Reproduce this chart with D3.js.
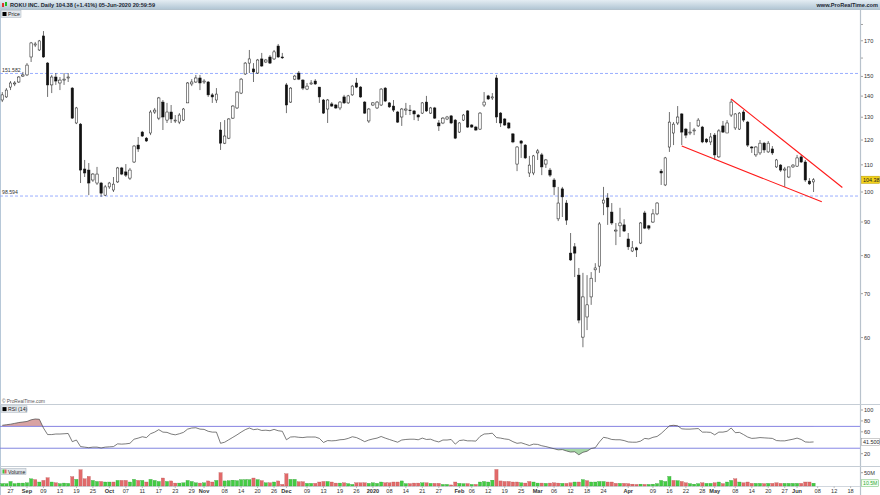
<!DOCTYPE html>
<html><head><meta charset="utf-8">
<script src="https://cdn.jsdelivr.net/npm/d3@7"></script>
<style>body{margin:0;background:#fff}svg{display:block;font-family:"Liberation Sans",Arial,sans-serif}</style>
</head><body><svg id="c" width="880" height="495"></svg>
<script>
// ---------- DATA ----------
const firstDay = "2019-08-23", lastDay = "2020-06-19";
const holidays = ["2019-09-02","2019-11-28","2019-12-25","2020-01-01","2020-01-20","2020-02-17","2020-04-10","2020-05-25"];
const opens = [
138.1,139.6,144.5,146.1,147.1,150.2,150.8,160.6,167.5,164.6,
172.9,157.2,145.6,149.7,146.6,148.1,149.2,144.0,127.4,126.9,
108.4,108.0,104.3,103.2,103.2,98.9,101.8,100.7,103.6,108.8,
107.3,105.0,111.1,117.9,123.4,120.8,123.0,132.4,129.6,137.1,
128.7,132.4,128.3,127.8,128.7,136.7,146.1,147.1,149.2,147.1,
147.1,140.6,138.1,124.3,118.7,120.8,129.6,134.3,141.5,151.3,
157.2,154.0,151.8,159.5,157.8,160.6,159.5,166.9,160.6,145.6,
137.1,148.6,151.8,148.1,143.5,146.1,147.6,144.5,138.1,133.8,
136.2,135.7,134.3,139.6,136.7,140.6,146.6,144.5,137.1,128.3,
135.7,134.3,135.7,144.0,136.7,135.2,132.4,130.1,133.3,133.3,
132.9,131.0,131.9,137.1,131.9,134.3,127.4,127.4,129.2,130.6,
128.7,123.4,128.7,132.9,126.5,125.6,124.7,135.7,140.1,139.1,
149.2,131.9,129.2,127.4,122.6,110.3,119.6,117.9,106.9,106.9,
114.7,113.9,110.3,108.0,104.3,91.0,101.1,96.2,80.7,82.5,
74.7,60.1,64.5,69.2,76.1,77.1,96.2,97.9,93.2,87.2,
88.8,89.1,84.8,81.3,82.2,83.6,92.9,88.8,90.0,92.6,
107.6,102.5,117.1,123.0,127.4,131.5,124.7,123.0,123.9,126.1,
125.6,120.4,119.2,122.1,113.1,126.1,123.0,131.0,125.2,124.7,
132.4,127.8,117.1,113.9,114.7,118.7,115.1,116.3,109.2,109.9,
108.0,105.4,109.2,109.5,113.1,111.1,103.9,103.6];
const highs = [
142.0,144.0,147.6,147.6,150.2,152.4,157.2,169.3,169.3,170.5,
175.9,157.8,150.8,151.8,149.7,151.8,151.8,144.5,134.8,127.4,
111.9,110.7,106.9,109.2,103.6,102.5,103.6,105.4,109.2,109.2,
110.3,108.8,117.9,121.3,123.9,121.3,133.3,134.3,139.6,138.1,
136.7,135.7,131.0,131.9,134.3,147.1,148.6,150.8,150.8,148.6,
147.6,141.5,144.0,127.8,128.7,129.6,135.7,142.5,149.2,157.8,
164.6,157.2,159.5,162.9,159.5,161.7,164.6,168.1,162.9,146.6,
144.5,150.8,152.9,148.6,146.6,148.1,148.6,144.5,138.6,138.6,
137.1,136.2,137.6,140.6,140.6,145.6,149.2,145.0,137.6,134.3,
137.1,137.6,144.0,144.5,137.1,138.1,132.9,134.3,136.7,135.7,
133.3,131.5,137.1,140.1,134.8,134.8,128.7,130.1,130.6,131.0,
129.2,127.8,131.5,133.3,126.9,126.1,132.4,142.0,140.6,141.5,
150.8,132.4,129.6,127.8,123.0,117.5,120.0,118.3,113.5,113.9,
116.3,114.7,112.3,108.8,105.0,101.8,101.8,97.2,86.6,83.6,
76.6,75.3,74.7,75.5,77.9,90.0,101.8,99.6,96.2,89.7,
94.6,90.9,86.6,84.2,82.5,90.0,93.6,89.1,94.2,96.5,
108.4,113.1,132.4,127.8,135.2,131.9,125.2,127.8,125.2,129.6,
126.1,120.8,123.0,123.0,124.7,128.3,128.7,138.6,131.9,132.4,
133.3,128.3,117.5,117.5,120.0,119.2,119.6,117.5,112.3,110.3,
109.2,109.2,110.3,113.9,113.9,111.9,105.0,105.0];
const lows = [
137.1,139.1,143.0,145.0,146.6,149.7,150.2,157.8,166.3,164.0,
160.1,139.6,141.5,145.6,143.0,145.6,147.1,129.2,126.9,103.2,
105.4,98.9,103.6,102.5,98.3,98.6,101.1,100.0,103.2,106.1,
105.4,104.3,110.7,115.1,121.3,119.2,122.1,131.5,128.7,124.3,
127.4,127.4,127.4,126.9,128.3,136.7,145.0,146.6,143.0,146.1,
139.6,136.7,136.7,115.9,118.3,120.4,129.2,133.8,141.0,150.8,
151.8,147.1,151.3,155.1,157.2,156.7,158.9,160.1,159.5,131.9,
136.7,148.1,148.1,143.0,143.0,145.6,145.6,136.7,131.5,127.4,
134.8,133.8,133.3,136.2,136.2,140.1,144.0,139.1,131.5,127.4,
135.2,133.8,135.2,137.1,134.3,132.4,127.4,126.1,131.0,131.0,
128.7,128.3,131.5,132.4,131.5,129.2,123.9,126.9,128.7,126.9,
120.4,123.0,128.3,125.2,125.2,123.9,124.3,134.8,138.1,138.1,
127.4,125.6,126.1,124.7,118.7,107.6,112.7,112.3,105.4,106.1,
111.9,106.1,108.8,105.4,98.9,90.3,91.6,89.1,78.5,74.2,
63.1,58.0,61.6,67.3,72.9,75.3,92.2,89.1,89.1,83.0,
85.4,86.9,81.6,81.0,79.6,83.3,87.8,87.5,89.7,92.2,
102.5,102.1,115.1,117.9,126.5,117.9,120.8,122.1,122.1,125.6,
118.7,118.7,117.9,111.9,112.7,123.0,123.0,130.1,124.3,124.3,
127.8,117.1,114.7,113.1,113.9,114.7,114.7,113.9,108.8,107.3,
101.8,105.0,108.8,109.2,110.7,103.6,102.5,100.0];
const closes = [
140.6,143.0,146.6,146.6,149.7,150.8,156.1,168.7,168.1,169.9,
160.6,145.6,149.7,147.6,148.1,148.6,149.7,129.6,134.3,108.0,
106.9,103.2,106.5,106.5,99.6,101.8,103.2,102.8,108.8,106.5,
106.1,108.0,117.5,116.3,121.7,119.6,132.4,133.3,139.1,130.1,
132.4,129.2,128.7,131.0,133.8,146.6,147.1,149.2,146.6,147.6,
140.6,139.6,141.0,118.7,121.7,129.2,135.2,142.0,148.6,157.2,
159.5,152.4,158.9,155.6,158.9,157.2,163.5,160.6,160.1,135.7,
144.0,150.2,148.6,144.0,145.0,146.6,146.1,139.6,131.9,138.1,
135.2,134.3,137.1,136.7,140.1,145.0,144.5,139.6,131.9,133.8,
136.7,137.1,143.5,137.6,134.8,133.3,127.8,133.8,133.8,133.0,
131.5,130.1,136.7,132.9,134.3,129.6,126.1,129.6,130.1,127.4,
120.8,127.4,131.0,125.6,125.6,124.3,131.9,137.1,138.6,139.6,
130.1,127.4,126.5,125.2,119.2,117.1,118.7,112.7,109.9,113.5,
115.5,109.2,111.9,106.1,101.8,96.2,98.3,90.6,78.8,80.7,
63.8,69.2,67.3,73.9,76.6,89.4,97.2,94.9,89.7,87.5,
89.7,87.2,82.5,82.2,81.6,89.7,88.1,88.1,92.6,96.2,
106.9,112.7,127.8,126.9,130.1,123.4,122.1,123.4,124.3,128.7,
119.2,119.2,121.3,113.9,123.9,123.4,127.4,137.1,131.5,131.9,
128.7,117.9,116.7,117.1,118.7,115.9,118.7,114.7,111.9,108.0,
108.4,109.2,109.9,112.7,111.1,104.3,102.9,104.38];
const volumesM = [
9,9,17,9,11,11,12,27,24,15,
21,31,15,12,9,11,10,35,25,61,
27,36,21,17,17,15,15,15,21,21,
21,15,25,21,21,15,25,21,17,30,
17,19,11,11,12,21,17,12,11,12,
19,15,21,50,19,20,22,20,24,24,
24,30,24,20,12,12,15,19,6,46,
25,25,16,16,10,10,10,15,17,17,
15,11,11,12,9,6,12,12,12,10,
12,10,15,12,12,15,15,19,9,9,
11,11,12,12,10,10,10,6,6,4,
15,10,9,9,6,6,15,17,15,22,
62,19,17,17,15,15,12,11,17,15,
11,11,10,11,12,11,10,10,12,15,
15,24,20,15,15,17,17,15,15,10,
10,10,9,7,6,7,6,6,7,9,
21,17,36,21,20,17,12,9,7,9,
12,10,10,12,15,9,15,21,27,15,
12,15,10,10,10,9,10,10,12,10,
10,10,10,10,10,15,15,10.5];
const rsi14 = [
72,73,74,75.5,77,78,79,82,83.5,83,
67,55,55,56,56,56.5,57,42,45,33,
32,31,32,32,30.5,32,32.5,33,38,37.5,
38,39,46.5,48.5,51,49.5,56.5,59.5,64,59.5,
59,56,54.5,56.5,59,65,67,67.5,65,64.5,
61,59.5,59.5,39,41,45.5,50,54.5,59.5,64,
67,64,65,62.5,63,62,64.5,62,61,45.5,
50.5,51,50,49.5,50.5,50.5,50.5,48,40.5,44,
43.5,44,45.5,46,48,51,49.5,46,42,45,
47,48.5,51.5,48.5,46,43.5,41,45,46,46.5,
46.5,45.5,48.5,46,46.5,43.5,41.5,45,45,46,
37.5,44,45,43.5,43.5,43,51.5,56,56.5,57.5,
49.5,48.5,47,46,42,39,40,37.5,35,37.5,
37,34.5,33,31,29,27,27.5,25,23,23.5,
18,22.5,24.5,29.5,31,41.5,50,48.5,46,45.5,
45.5,44,41.5,41,41,43,48,47,50,51.5,
57,64,71,72,71,65.5,65,65,65.5,66,
59.5,59.5,59,54.5,59.5,59.5,61,67,58.5,59,
55,50.5,48,48.5,49.5,49,48.5,48,44,43.5,
43.5,45,46.5,48.5,46,41.5,41,41.5];
const priceTicks = [180,170,160,150,140,130,120,110,100,90,80,70,60];
const priceTickLabels = [170,150,140,130,120,110,100,90,80,70,60];
const levels = [151.582, 98.594];
const upperTrend = [["2020-05-07",138.6],["2020-06-16",101.6]];
const lowerTrend = [["2020-04-21",117.5],["2020-06-09",96.6]];
const rsiTicks = [100,80,60,20];
const rsiBands = [70,30];
const lastRsi = 41.5;
const lastPrice = 104.38;
const volTick = 50, lastVol = 10.5;
const dateTicks = [
["2019-08-27","27"],["2019-09-03","Sep",1],["2019-09-09","09"],["2019-09-13","13"],["2019-09-19","19"],["2019-09-25","25"],
["2019-10-01","Oct",1],["2019-10-07","07"],["2019-10-11","11"],["2019-10-17","17"],["2019-10-23","23"],["2019-10-29","29"],
["2019-11-01","Nov",1],["2019-11-08","08"],["2019-11-14","14"],["2019-11-20","20"],["2019-11-26","26"],
["2019-12-02","Dec",1],["2019-12-09","09"],["2019-12-13","13"],["2019-12-19","19"],["2019-12-26","26"],
["2020-01-02","2020",1],["2020-01-08","08"],["2020-01-14","14"],["2020-01-21","21"],["2020-01-27","27"],
["2020-02-03","Feb",1],["2020-02-06","06"],["2020-02-12","12"],["2020-02-19","19"],["2020-02-25","25"],
["2020-03-02","Mar",1],["2020-03-06","06"],["2020-03-12","12"],["2020-03-18","18"],["2020-03-24","24"],
["2020-04-01","Apr",1],["2020-04-09","09"],["2020-04-16","16"],["2020-04-22","22"],["2020-04-28","28"],
["2020-05-01","May",1],["2020-05-08","08"],["2020-05-14","14"],["2020-05-20","20"],["2020-05-27","27"],
["2020-06-01","Jun",1],["2020-06-08","08"],["2020-06-12","12"],["2020-06-18","18"]];

// ---------- BUILD ----------
const parse = d3.utcParse("%Y-%m-%d"), fmt = d3.utcFormat("%Y-%m-%d");
const days = [];
for (let d = parse(firstDay); d <= parse(lastDay); d = d3.utcDay.offset(d, 1)) {
  const wd = d.getUTCDay(), s = fmt(d);
  if (wd > 0 && wd < 6 && !holidays.includes(s)) days.push(s);
}
const idxOf = new Map(days.map((d, i) => [d, i]));
const data = closes.map((c, i) => ({i, o: opens[i], h: highs[i], l: lows[i], c, v: volumesM[i], r: rsi14[i],
  upVol: i === 0 ? c >= opens[i] : c >= closes[i - 1]}));

const AX = 860;
const svg = d3.select("#c");
const x = d3.scaleLinear().domain([-0.556, 208.28]).range([0, AX]);
const y = d3.scaleLog().domain([47.36, 196.15]).range([405, 0]);
const yR = d3.scaleLinear().domain([0, 100]).range([464.6, 410]);
const yV = d3.scaleLinear().domain([0, 50]).range([486, 472.7]);
const FS = 5.6;

const defs = svg.append("defs");
const g1 = defs.append("linearGradient").attr("id", "hdr").attr("x1", 0).attr("x2", 0).attr("y1", 0).attr("y2", 1);
g1.append("stop").attr("offset", "0").attr("stop-color", "#e4edf3");
g1.append("stop").attr("offset", "1").attr("stop-color", "#b3c7d5");
defs.append("clipPath").attr("id", "cp").append("rect").attr("x", 0).attr("y", 9).attr("width", AX).attr("height", 395);
defs.append("clipPath").attr("id", "cpUp").append("rect").attr("x", 0).attr("y", 404).attr("width", AX).attr("height", yR(70) - 404);
defs.append("clipPath").attr("id", "cpDn").append("rect").attr("x", 0).attr("y", yR(30)).attr("width", AX).attr("height", 466 - yR(30));

// header
svg.append("rect").attr("x", 0).attr("y", 0).attr("width", 880).attr("height", 9).attr("fill", "url(#hdr)");
svg.append("line").attr("x1", 0).attr("x2", 880).attr("y1", 9.5).attr("y2", 9.5).attr("stroke", "#9fb2c0").attr("stroke-width", 0.8);
svg.append("rect").attr("x", 2).attr("y", 3).attr("width", 2).attr("height", 4).attr("fill", "#d33");
svg.append("rect").attr("x", 5).attr("y", 2).attr("width", 2).attr("height", 4).attr("fill", "#2b2");
svg.append("text").attr("x", 10).attr("y", 6.6).attr("font-size", 5.6).attr("font-weight", "bold").attr("fill", "#1c2733")
  .text("ROKU INC. Daily 104.38 (+1.41%) 05-Jun-2020 20:59:59");
svg.append("text").attr("x", 878).attr("y", 6.6).attr("text-anchor", "end").attr("font-size", 5.6).attr("fill", "#1c2733").attr("font-weight", "bold")
  .text("www.ProRealTime.com");

// borders
svg.append("line").attr("x1", 0.5).attr("x2", 0.5).attr("y1", 9).attr("y2", 495).attr("stroke", "#b7c8d8");
svg.append("line").attr("x1", AX + 0.5).attr("x2", AX + 0.5).attr("y1", 9).attr("y2", 495).attr("stroke", "#b8c2cc").attr("stroke-width", 1.2);
[404.5, 466.5].forEach(v => svg.append("line").attr("x1", 0).attr("x2", 880).attr("y1", v).attr("y2", v).attr("stroke", "#c5cdd5").attr("stroke-width", 1));
svg.append("line").attr("x1", 0).attr("x2", AX).attr("y1", 486.5).attr("y2", 486.5).attr("stroke", "#c5cdd5").attr("stroke-width", 0.8);

// price legend
const lg = svg.append("g");
lg.append("rect").attr("x", 1).attr("y", 10.5).attr("width", 20).attr("height", 7).attr("fill", "#e3e8ed").attr("stroke", "#a8b2bc").attr("stroke-width", 0.5);
lg.append("rect").attr("x", 2.5).attr("y", 12).attr("width", 4).attr("height", 4).attr("fill", "#000");
lg.append("text").attr("x", 8).attr("y", 16.2).attr("font-size", 5.2).attr("fill", "#222").text("Price");

// price panel
const pp = svg.append("g").attr("clip-path", "url(#cp)");
levels.forEach(l => {
  pp.append("line").attr("x1", 0).attr("x2", AX).attr("y1", y(l)).attr("y2", y(l))
    .attr("stroke", "#8ea6ff").attr("stroke-width", 0.9).attr("stroke-dasharray", "3,2");
  svg.append("text").attr("x", 2).attr("y", y(l) - 1.6).attr("font-size", 5.2).attr("fill", "#333").text(l.toFixed(3));
});
pp.selectAll(".wick").data(data).join("line")
  .attr("x1", d => x(d.i)).attr("x2", d => x(d.i)).attr("y1", d => y(d.h)).attr("y2", d => y(d.l))
  .attr("stroke", "#111").attr("stroke-width", 0.6);
pp.selectAll(".body").data(data).join("rect")
  .attr("x", d => x(d.i) - 1.2).attr("width", 2.4)
  .attr("y", d => y(Math.max(d.o, d.c)))
  .attr("height", d => Math.max(0.6, Math.abs(y(d.o) - y(d.c))))
  .attr("fill", d => d.c >= d.o ? "#fff" : "#111").attr("stroke", "#111").attr("stroke-width", 0.5);
const trend = d3.line().x(p => x(idxOf.get(p[0]))).y(p => y(p[1]));
[upperTrend, lowerTrend].forEach(t => pp.append("path").attr("d", trend(t)).attr("fill", "none").attr("stroke", "#ff1a1a").attr("stroke-width", 1.1));

// price axis
const pa = svg.append("g");
priceTicks.forEach(t => pa.append("line").attr("x1", AX + 1).attr("x2", AX + 3).attr("y1", y(t)).attr("y2", y(t)).attr("stroke", "#666").attr("stroke-width", 0.6));
priceTickLabels.forEach(t => pa.append("text").attr("x", AX + 4).attr("y", y(t) + 2).attr("font-size", FS).attr("fill", "#333").text(t));
pa.append("rect").attr("x", AX + 1.5).attr("y", y(lastPrice) - 3.6).attr("width", 18).attr("height", 7.2).attr("fill", "#f2d21a").attr("stroke", "#b89a00").attr("stroke-width", 0.5);
pa.append("text").attr("x", AX + 3).attr("y", y(lastPrice) + 2).attr("font-size", 5.4).attr("fill", "#222").text(lastPrice.toFixed(2));

svg.append("text").attr("x", 2).attr("y", 402.6).attr("font-size", 4.8).attr("fill", "#555").text("© ProRealTime.com");

// RSI panel
const rl = svg.append("g");
rl.append("rect").attr("x", 1).attr("y", 405.8).attr("width", 26).attr("height", 6.6).attr("fill", "#e3e8ed").attr("stroke", "#a8b2bc").attr("stroke-width", 0.5);
rl.append("rect").attr("x", 2.5).attr("y", 407.1).attr("width", 4).attr("height", 4).attr("fill", "#000");
rl.append("text").attr("x", 8).attr("y", 411.1).attr("font-size", 5.2).attr("fill", "#222").text("RSI (14)");
const areaUp = d3.area().x(d => x(d.i)).y0(yR(70)).y1(d => yR(d.r));
const areaDn = d3.area().x(d => x(d.i)).y0(yR(30)).y1(d => yR(d.r));
svg.append("path").attr("d", areaUp(data)).attr("fill", "#d9a3a3").attr("clip-path", "url(#cpUp)");
svg.append("path").attr("d", areaDn(data)).attr("fill", "#a6d7a6").attr("clip-path", "url(#cpDn)");
rsiBands.forEach(b => svg.append("line").attr("x1", 0).attr("x2", AX).attr("y1", yR(b)).attr("y2", yR(b)).attr("stroke", "#7b7be3").attr("stroke-width", 0.9));
svg.append("path").attr("d", d3.line().x(d => x(d.i)).y(d => yR(d.r))(data)).attr("fill", "none").attr("stroke", "#444").attr("stroke-width", 0.7);
rsiTicks.forEach(t => {
  svg.append("line").attr("x1", AX + 1).attr("x2", AX + 3).attr("y1", yR(t)).attr("y2", yR(t)).attr("stroke", "#666").attr("stroke-width", 0.6);
  svg.append("text").attr("x", AX + 4).attr("y", yR(t) + 2).attr("font-size", FS).attr("fill", "#333").text(t);
});
svg.append("rect").attr("x", AX + 1.5).attr("y", yR(lastRsi) - 3.6).attr("width", 18).attr("height", 7.2).attr("fill", "#fff").attr("stroke", "#999").attr("stroke-width", 0.5);
svg.append("text").attr("x", AX + 3).attr("y", yR(lastRsi) + 2).attr("font-size", 5.4).attr("fill", "#222").text(lastRsi.toFixed(3));

// Volume panel
const vl = svg.append("g");
vl.append("rect").attr("x", 1).attr("y", 468.3).attr("width", 25).attr("height", 6.4).attr("fill", "#e3e8ed").attr("stroke", "#a8b2bc").attr("stroke-width", 0.5);
vl.append("rect").attr("x", 2.5).attr("y", 469.5).attr("width", 2).attr("height", 4).attr("fill", "#3cc83c");
vl.append("rect").attr("x", 4.5).attr("y", 469.5).attr("width", 2).attr("height", 4).attr("fill", "#e06464");
vl.append("text").attr("x", 8).attr("y", 473.5).attr("font-size", 5.2).attr("fill", "#222").text("Volume");
svg.selectAll(".vol").data(data).join("rect")
  .attr("x", d => x(d.i) - 1.6).attr("width", 3.2)
  .attr("y", d => yV(d.v)).attr("height", d => yV(0) - yV(d.v))
  .attr("fill", d => d.upVol ? "#44cc44" : "#e26a6a")
  .attr("stroke", d => d.upVol ? "#2a9a2a" : "#b54a4a").attr("stroke-width", 0.3);
svg.append("line").attr("x1", AX + 1).attr("x2", AX + 3).attr("y1", yV(volTick)).attr("y2", yV(volTick)).attr("stroke", "#666").attr("stroke-width", 0.6);
svg.append("text").attr("x", AX + 4).attr("y", yV(volTick) + 2).attr("font-size", FS).attr("fill", "#333").text(volTick + "M");
svg.append("rect").attr("x", AX + 1.5).attr("y", yV(lastVol) - 3.4).attr("width", 17).attr("height", 6.8).attr("fill", "#f4fff4").attr("stroke", "#66bb66").attr("stroke-width", 0.5);
svg.append("text").attr("x", AX + 3).attr("y", yV(lastVol) + 2).attr("font-size", 5.2).attr("fill", "#33aa33").text(lastVol + "M");

// date axis
const xa = svg.append("g");
dateTicks.forEach(([d, lab, bold]) => {
  const xi = x(idxOf.get(d));
  xa.append("line").attr("x1", xi).attr("x2", xi).attr("y1", 486.5).attr("y2", 488).attr("stroke", "#777").attr("stroke-width", 0.5);
  xa.append("text").attr("x", xi).attr("y", 492.8).attr("text-anchor", "middle").attr("font-size", FS)
    .attr("font-weight", bold ? "bold" : "normal").attr("fill", "#333").text(lab);
});
</script></body></html>
